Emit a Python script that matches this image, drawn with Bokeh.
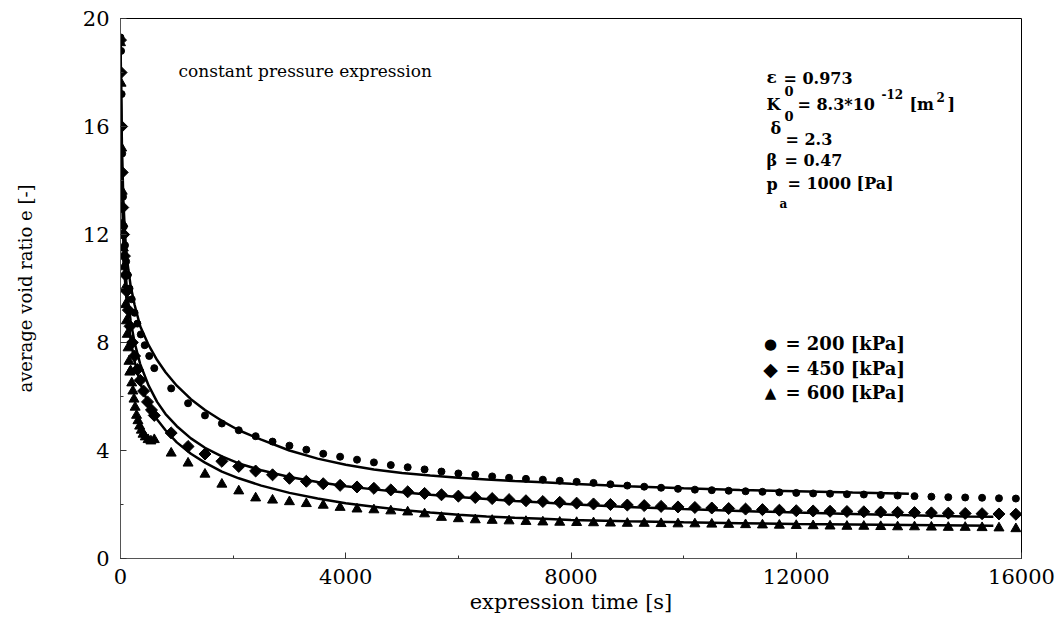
import math
from bokeh.plotting import figure
from bokeh.models import Range1d, SingleIntervalTicker, Label
from bokeh.embed import file_html
from bokeh.resources import INLINE

# ---------------- data ----------------
circ_t = [0, 10, 20, 30, 45, 60, 80, 100, 130, 160, 200, 250, 300, 360, 430, 510,
          600, 900, 1200, 1500, 1800, 2100, 2400, 2700, 3000, 3300, 3600, 3900, 4200,
          4500, 4800, 5100, 5400, 5700, 6000, 6300, 6600, 6900, 7200, 7500, 7800, 8100,
          8400, 8700, 9000, 9300, 9600, 9900, 10200, 10500, 10800, 11100, 11400, 11700,
          12000, 12300, 12600, 12900, 13200, 13500, 13800, 14100, 14400, 14700, 15000,
          15300, 15600, 15900]
circ_e = [19.3, 18.8, 17.2, 15.0, 13.4, 12.3, 11.6, 11.0, 10.5, 10.0, 9.6, 9.1, 8.7, 8.3, 7.9, 7.5,
          7.05, 6.3, 5.75, 5.3, 5.0, 4.75, 4.53, 4.33, 4.18, 4.03, 3.88, 3.77, 3.66,
          3.56, 3.46, 3.38, 3.30, 3.22, 3.15, 3.10, 3.04, 2.99, 2.95, 2.92, 2.88, 2.84,
          2.80, 2.75, 2.70, 2.66, 2.62, 2.58, 2.55, 2.53, 2.51, 2.49, 2.47, 2.45,
          2.43, 2.41, 2.40, 2.38, 2.37, 2.35, 2.33, 2.31, 2.29, 2.27, 2.26,
          2.25, 2.23, 2.22]

dia_t = [0, 10, 20, 30, 40, 55, 70, 90, 110, 140, 170, 210, 250, 300, 350, 410, 480, 550,
         600, 900, 1200, 1500, 1800, 2100, 2400, 2700, 3000, 3300, 3600, 3900, 4200,
         4500, 4800, 5100, 5400, 5700, 6000, 6300, 6600, 6900, 7200, 7500, 7800, 8100,
         8400, 8700, 9000, 9300, 9600, 9900, 10200, 10500, 10800, 11100, 11400, 11700,
         12000, 12300, 12600, 12900, 13200, 13500, 13800, 14100, 14400, 14700, 15000,
         15300, 15600, 15900]
dia_e = [19.2, 18.0, 16.0, 14.3, 13.0, 12.0, 11.2, 10.5, 9.9, 9.2, 8.6, 8.0, 7.5, 7.0, 6.6, 6.2, 5.8, 5.5,
         5.3, 4.65, 4.15, 3.87, 3.60, 3.41, 3.24, 3.10, 2.97, 2.86, 2.77, 2.71, 2.65,
         2.60, 2.54, 2.47, 2.41, 2.36, 2.31, 2.26, 2.22, 2.18, 2.14, 2.11, 2.08, 2.05,
         2.02, 2.00, 1.98, 1.96, 1.93, 1.91, 1.89, 1.87, 1.85, 1.83, 1.81, 1.79,
         1.77, 1.76, 1.75, 1.74, 1.73, 1.72, 1.71, 1.70, 1.69, 1.68, 1.67,
         1.66, 1.65, 1.64]

tri_t = [0, 10, 20, 30, 40, 50, 60, 75, 90, 105, 120, 135, 150, 165, 180, 200, 220, 240,
         260, 285, 310, 340, 370, 400, 440, 490, 540,
         600, 900, 1200, 1500, 1800, 2100, 2400, 2700, 3000, 3300, 3600, 3900, 4200,
         4500, 4800, 5100, 5400, 5700, 6000, 6300, 6600, 6900, 7200, 7500, 7800, 8100,
         8400, 8700, 9000, 9300, 9600, 9900, 10200, 10500, 10800, 11100, 11400, 11700,
         12000, 12300, 12600, 12900, 13200, 13500, 13800, 14100, 14400, 14700, 15000,
         15300, 15600, 15900]
tri_e = [19.1, 17.6, 15.2, 13.6, 12.4, 11.5, 10.8, 10.0, 9.4, 8.8, 8.3, 7.8, 7.3, 6.9, 6.95, 6.5, 6.2, 5.9,
         5.6, 5.3, 5.1, 4.9, 4.75, 4.6, 4.5, 4.4, 4.35,
         4.4, 3.9, 3.53, 3.12, 2.75, 2.50, 2.24, 2.16, 2.10, 2.03, 1.97, 1.89, 1.83,
         1.80, 1.76, 1.72, 1.65, 1.52, 1.47, 1.43, 1.41, 1.39, 1.37, 1.35, 1.34, 1.33,
         1.32, 1.31, 1.30, 1.30, 1.29, 1.28, 1.28, 1.27, 1.26, 1.25, 1.24, 1.23,
         1.22, 1.21, 1.20, 1.19, 1.19, 1.18, 1.17, 1.17, 1.16, 1.15, 1.15,
         1.14, 1.13, 1.10]

fit200_t = [0, 10, 25, 50, 80, 120, 180, 250, 350, 500, 650, 800, 1000, 1250, 1500, 1800,
            2100, 2500, 3000, 3500, 4000, 4500, 5000, 5500, 6000, 6500, 7000, 7500, 8000,
            9000, 10000, 11000, 12000, 13000, 14000]
fit200_e = [19.3, 17.5, 15.3, 13.3, 12.0, 11.0, 10.1, 9.4, 8.6, 7.9, 7.35, 6.9, 6.4, 5.9, 5.5, 5.1,
            4.75, 4.4, 4.0, 3.7, 3.47, 3.3, 3.17, 3.07, 2.99, 2.93, 2.87, 2.82, 2.77,
            2.68, 2.60, 2.54, 2.49, 2.44, 2.40]

fit450_t = [0, 10, 25, 50, 80, 120, 180, 250, 350, 500, 650, 800, 1000, 1250, 1500, 1800,
            2100, 2500, 3000, 3500, 4000, 4500, 5000, 5500, 6000, 6500, 7000, 7500, 8000,
            9000, 10000, 11000, 12000, 13000, 14000, 15000, 15500]
fit450_e = [19.3, 17.0, 14.5, 12.3, 10.9, 9.8, 8.8, 8.0, 7.2, 6.4, 5.8, 5.35, 4.9, 4.45, 4.1, 3.78,
            3.52, 3.27, 3.02, 2.83, 2.68, 2.56, 2.45, 2.36, 2.28, 2.20, 2.13, 2.07, 2.01,
            1.91, 1.83, 1.76, 1.70, 1.65, 1.60, 1.56, 1.55]

fit600_t = [0, 10, 25, 50, 80, 120, 180, 250, 350, 500, 650, 800, 1000, 1250, 1500, 1800,
            2100, 2500, 3000, 3500, 4000, 4500, 5000, 5500, 6000, 6500, 7000, 7500, 8000,
            9000, 10000, 11000, 12000, 13000, 14000, 15000, 15500]
fit600_e = [19.3, 16.8, 14.0, 11.8, 10.3, 9.2, 8.1, 7.3, 6.5, 5.7, 5.15, 4.75, 4.3, 3.88, 3.55, 3.22,
            2.97, 2.70, 2.43, 2.22, 2.05, 1.92, 1.80, 1.70, 1.62, 1.56, 1.51, 1.47, 1.43,
            1.38, 1.34, 1.31, 1.28, 1.26, 1.24, 1.22, 1.21]

legend_symbols = ["\u25CF", "\u25C6", "\u25B2"]
legend_labels = ["= 200 [kPa]", "= 450 [kPa]", "= 600 [kPa]"]
x_label = "expression time [s]"
y_label = "average void ratio e [-]"
title_note = "constant pressure expression"

# ---------------- figure ----------------
SERIF = "DejaVu Serif"
p = figure(width=1062, height=643, output_backend="svg", toolbar_location=None,
           x_range=Range1d(0, 16000), y_range=Range1d(0, 20),
           min_border_left=120, min_border_right=41, min_border_top=18, min_border_bottom=85)
p.background_fill_color = "white"
p.border_fill_color = "white"
p.outline_line_color = "black"
p.outline_line_width = 1
p.xgrid.visible = False
p.ygrid.visible = False

p.xaxis.ticker = SingleIntervalTicker(interval=4000, num_minor_ticks=2)
p.yaxis.ticker = SingleIntervalTicker(interval=4, num_minor_ticks=2)
for ax in (p.xaxis[0], p.yaxis[0]):
    ax.axis_line_color = "#555555"
    ax.major_tick_in = 6
    ax.major_tick_out = 0
    ax.minor_tick_in = 3
    ax.minor_tick_out = 0
    ax.major_tick_line_color = "#333333"
    ax.minor_tick_line_color = "#333333"
    ax.major_label_text_font = SERIF
    ax.major_label_text_font_size = "21px"
    ax.major_label_text_color = "black"
    ax.axis_label_text_font = SERIF
    ax.axis_label_text_font_style = "normal"
    ax.axis_label_text_color = "black"
p.xaxis.axis_label = x_label
p.yaxis.axis_label = y_label
p.xaxis.axis_label_text_font_size = "21px"
p.yaxis.axis_label_text_font_size = "18px"
p.xaxis.major_label_standoff = 10
p.yaxis.major_label_standoff = 11
p.xaxis.axis_label_standoff = 3
p.yaxis.axis_label_standoff = 44

# fitted curves
for tt, ee in ((fit200_t, fit200_e), (fit450_t, fit450_e), (fit600_t, fit600_e)):
    p.line(tt, ee, line_color="black", line_width=2.5)

# measured points
p.scatter(circ_t, circ_e, marker="circle", size=7, color="black")
p.scatter(dia_t, dia_e, marker="square", angle=math.pi / 4, size=8.5, color="black")
p.scatter(tri_t, tri_e, marker="triangle", size=10, color="black")

# annotations (placed by pixel position of the reference)
def X(px):
    return (px - 120) / 901 * 16000

def Y(py):
    return (558 - py) / 540 * 20

def note(px, py, txt, size="16px", bold=False, font=SERIF, align="left"):
    p.add_layout(Label(x=X(px), y=Y(py), text=txt, text_font=font, text_font_size=size,
                       text_font_style="bold" if bold else "normal",
                       text_baseline="middle", text_align=align, text_color="black"))

note(178, 70, title_note, "17px")

B = True
note(766, 76, "ε", "17px", B)
note(784, 90, "0", "13px", B)
note(783, 78, "= 0.973", "16px", B)
note(766, 104, "K", "16px", B)
note(784, 115, "0", "13px", B)
note(797, 104, "= 8.3*10", "16px", B)
note(881, 93, "-12", "12px", B)
note(909, 104, "[m", "16px", B)
note(936, 96, "2", "12px", B)
note(947, 104, "]", "16px", B)
note(770, 128, "δ", "16px", B)
note(785, 139, "= 2.3", "16px", B)
note(766, 160, "β", "16px", B)
note(784, 160, "= 0.47", "16px", B)
note(766, 184, "p", "16px", B)
note(779, 203, "a", "12px", B)
note(787, 183, "= 1000 [Pa]", "16px", B)

# legend (symbol keys + texts)
for sym, lab, py, fs in zip(legend_symbols, legend_labels, (343, 368, 392), ("15px", "19px", "15px")):
    note(770, py, sym, fs, False, "DejaVu Sans", "center")
    note(785, py, lab, "18px", True)

open("out.html", "w").write(file_html(p, INLINE))
